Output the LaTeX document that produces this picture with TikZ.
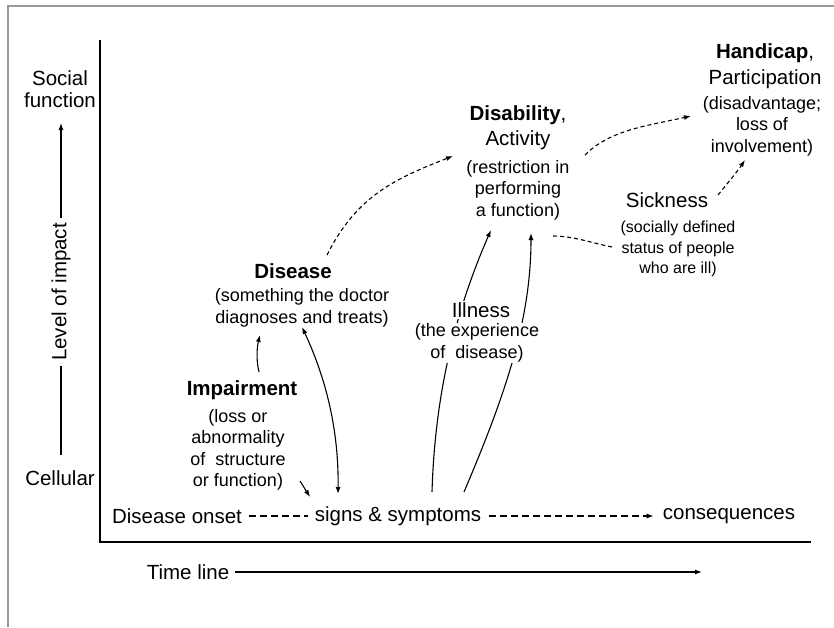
\documentclass[tikz,border=0pt]{standalone}
\usepackage{fontspec}
\setmainfont{Liberation Sans}
\usetikzlibrary{arrows.meta}

\tikzset{
  lbl/.style={font=\fontsize{20.5}{22}\selectfont, inner sep=1pt, align=center},
  hd/.style={lbl, font=\fontsize{20.5}{22}\selectfont\bfseries},
  note/.style={font=\fontsize{18}{21.5}\selectfont, inner sep=1pt, align=center},
  small note/.style={font=\fontsize{16}{20.5}\selectfont, inner sep=1pt, align=center},
  link/.style={->, line width=1.1pt},
  dlink/.style={link, dash pattern=on 4pt off 3pt},
  timedash/.style={line width=1.2pt, dash pattern=on 7pt off 4pt},
  axis/.style={line width=1.6pt}
}

\begin{document}
\begin{tikzpicture}[x=1pt,y=-1pt,>={Latex[length=7pt,width=5pt]}]
    \useasboundingbox (0,0) rectangle (834,627);
    \draw[black!40, line width=1.5pt] (8,627) -- (8,6) -- (834,6);
    \draw[axis] (100,40) -- (100,542) -- (811,542);

    \node[lbl] (social) at (60,89) {Social\\function};
    \node[lbl, rotate=90] (level) at (61,292) {Level of impact};
    \node[lbl] (cell) at (60,478) {Cellular};
    \coordinate (levtop) at (61,123);
    \coordinate (levbot) at (61,455);
    \draw[link] ([yshift=4pt]level.east) -- (levtop);
    \draw[line width=1.1pt] ([yshift=-4pt]level.west) -- (levbot);

    \node[lbl] (onset) at (177,516) {Disease onset};
    \node[lbl] (signs) at (398,516) {signs \& symptoms};
    \node[lbl] (cons) at (729,516) {consequences};
    \draw[timedash, shorten <=6pt, shorten >=6pt] (onset) -- (signs);
    \draw[timedash, ->, shorten <=7pt, shorten >=8pt] (signs) -- (cons);

    \node[lbl] (time) at (188,572) {Time line};
    \coordinate (timeend) at (702,572);
    \draw[link, shorten <=5pt] (time) -- (timeend);

    \node[hd] (imp) at (242,390) {Impairment};
    \node[note] (impd) at (238,450) {(loss or\\abnormality\\of\ \ structure\\or function)};
    \node[hd] (dis) at (293,271) {Disease};
    \node[note] (disd) at (302,308) {(something the doctor\\diagnoses and treats)};
    \node[lbl] (dab) at (518,115) {\textbf{Disability},};
    \node[lbl] (act) at (518,140) {Activity};
    \node[note] (dabd) at (518,190) {(restriction in\\performing\\ a function)};
    \node[lbl] (hc) at (765,53) {\textbf{Handicap},};
    \node[lbl] (part) at (765,79) {Participation};
    \node[note] (hcd) at (762,126) {(disadvantage;\\loss of\\involvement)};
    \node[lbl] (sick) at (667,200) {Sickness};
    \node[small note] (sickd) at (678,249) {(socially defined\\status of people\\who are ill)};

    \draw[link] ([shift={(17,-18)}]imp.center) .. controls +(-3,-12) and +(-3,12) .. ([shift={(-42,27)}]disd.center);
    \draw[link] ([shift={(62,31)}]impd.center) -- ([shift={(-88,-19)}]signs.center);
    \draw[link, <->] ([shift={(-60,-22)}]signs.center) .. controls +(1,-70) and +(21,45) .. ([shift={(0,19)}]disd.center);
    \draw[link] ([shift={(34,-24)}]signs.center) .. controls +(3,-100) and +(-35,80) .. ([shift={(-27,40)}]dabd.center);
    \draw[link] ([shift={(66,-24)}]signs.center) .. controls +(39,-92) and +(0,90) .. ([shift={(13,43)}]dabd.center);

    \draw[dlink] ([shift={(34,-16)}]dis.center) .. controls +(30,-60) and +(-56,22) .. ([shift={(-65,-34)}]dabd.center);
    \draw[dlink] ([shift={(67,-35)}]dabd.center) .. controls +(25,-25) and +(-45,10) .. ([shift={(-71,-10)}]hcd.center);
    \draw[dlink] ([shift={(51,-5)}]sick.center) .. controls +(8,-10) and +(-8,12) .. ([shift={(-17,34)}]hcd.center);
    \draw[dlink, -] ([shift={(-66,-2)}]sickd.center) .. controls +(-20,-4) and +(20,0) .. ([shift={(35,46)}]dabd.center);

    \node[lbl, fill=white] (ill) at (481,310) {Illness};
    \node[note, fill=white] (illd) at (477,343) {(the experience\\of\ \ disease)};
\end{tikzpicture}
\end{document}
